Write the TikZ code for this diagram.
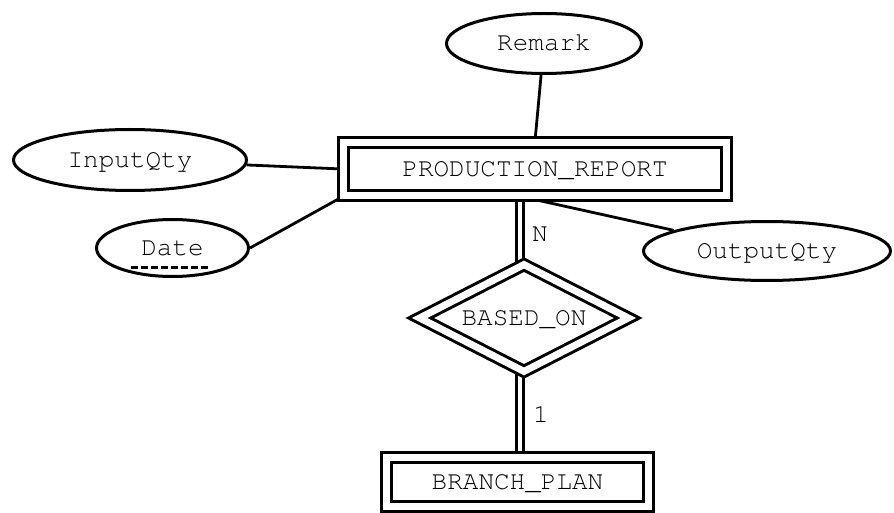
\documentclass[tikz,border=0pt]{standalone}
\usepackage[T1,TU]{fontenc}
\usetikzlibrary{shapes.geometric,backgrounds}
% Courier (psnfss pcr) for every label of the ER diagram
\newcommand{\erfont}{\fontencoding{T1}\fontfamily{pcr}\fontsize{26}{30}\selectfont}
\tikzset{
  er text/.style={font=\erfont, text height=15pt, text depth=0pt, inner sep=0pt},
  attr/.style={ellipse, draw, fill=white, line width=3pt, er text},
  entity/.style={rectangle, draw, fill=white, line width=3pt, double, double distance=7pt, er text},
  relation/.style={diamond, aspect=2, draw, fill=white, line width=3pt, double, double distance=7pt, er text},
  link/.style={line width=2.8pt},
  total/.style={line width=2.8pt, double, double distance=4.5pt},
  card/.style={er text}
}
\begin{document}
\begin{tikzpicture}[x=1pt,y=-1pt]
\useasboundingbox (0,0) rectangle (894,513);

% entities and relationship
\node[entity, minimum width=383pt, minimum height=53pt] (pr) at (535,169) {PRODUCTION\_REPORT};
\node[entity, minimum width=262pt, minimum height=49pt] (bp) at (517.5,482) {BRANCH\_PLAN};
\node[relation, minimum width=210pt, minimum height=108pt] (rel) at (524,318) {BASED\_ON};

% attributes
\node[attr, minimum width=195pt, minimum height=60pt] (rem) at (544,43.5) {Remark};
\node[attr, minimum width=233pt, minimum height=61pt] (inq) at (130,160) {InputQty};
\node[attr, minimum width=152pt, minimum height=57pt] (date) at (172.5,248) {Date};
\node[attr, minimum width=247pt, minimum height=59pt] (outq) at (767,251) {OutputQty};

% partial key: dashed underline
\draw[line width=3pt, dash pattern=on 7pt off 3pt]
  ([shift={(-42,19)}]date.center) -- ([shift={(35,19)}]date.center);

% cardinalities
\node[card] (ncard) at (540,234) {N};
\node[card] (onecard) at (541,415) {1};

% connectors behind the shapes
\begin{scope}[on background layer]
  \draw[link] (rem) -- (pr.north);
  \draw[link] (inq) -- (pr.west);
  \draw[link] (date.east) -- (pr.south west);
  \draw[link] ([xshift=-12pt]pr.south) -- (outq);
  \draw[total] ([xshift=-15pt]pr.south) -- ([xshift=-15pt]pr.south |- rel.north);
  \draw[total] ([xshift=2.5pt]bp.north) -- ([xshift=2.5pt]bp.north |- rel.south);
\end{scope}
\end{tikzpicture}
\end{document}
